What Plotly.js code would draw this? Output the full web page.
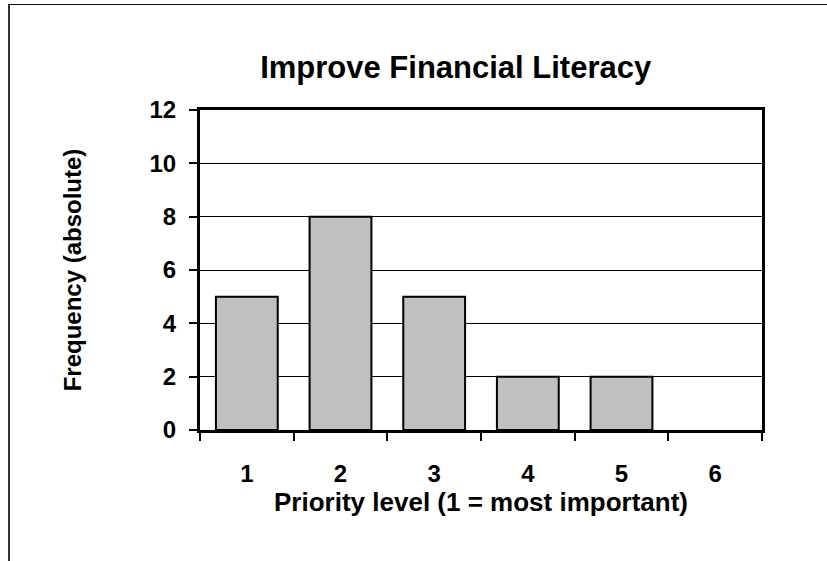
<!DOCTYPE html>
<html>
<head>
<meta charset="utf-8">
<script src="https://cdn.plot.ly/plotly-3.0.1.min.js"></script>
<style>
  html, body { margin: 0; padding: 0; background: #fff; }
  #wrap { position: relative; width: 827px; height: 561px; overflow: hidden; }
  #frame { position: absolute; left: 8px; top: 4px; width: 900px; height: 700px;
           border-top: 1px solid #111; border-left: 2px solid #333; pointer-events: none; }
  #chart { position: absolute; left: 0; top: 0; width: 827px; height: 561px; }
</style>
</head>
<body>
<div id="wrap">
  <div id="chart"></div>
  <div id="frame"></div>
</div>
<script>
// Priority levels and how many respondents chose each
const priorityLevels = ['1', '2', '3', '4', '5', '6'];
const frequencies = [5, 8, 5, 2, 2, 0];
const yTickValues = [0, 2, 4, 6, 8, 10, 12];

const FONT = 'Liberation Sans, Arial, Helvetica, sans-serif';

const trace = {
  type: 'bar',
  x: priorityLevels,
  y: frequencies,
  marker: {
    color: '#c0c0c0',
    // empty categories get no outline so nothing sits on the axis
    line: { color: '#000', width: frequencies.map(v => (v > 0 ? 2 : 0)) }
  },
  hoverinfo: 'x+y'
};

const layout = {
  width: 827,
  height: 561,
  margin: { l: 200, r: 65, t: 110, b: 131 },
  paper_bgcolor: 'rgba(0,0,0,0)',
  plot_bgcolor: '#fff',
  showlegend: false,
  bargap: 0.34,
  font: { family: FONT, color: '#000' },
  title: {
    text: 'Improve Financial Literacy',
    font: { family: FONT, size: 31, weight: 'bold', color: '#000' },
    xref: 'container', x: 0.551, xanchor: 'center',
    yref: 'container', y: 0.88, yanchor: 'middle'
  },
  xaxis: {
    type: 'category',
    tickson: 'boundaries',
    ticks: 'outside', ticklen: 8, tickwidth: 2, tickcolor: '#000',
    showline: true, linewidth: 3, linecolor: '#000', mirror: true,
    showgrid: false, zeroline: false,
    tickfont: { family: FONT, size: 24, weight: 'bold' },
    ticklabelstandoff: 20,
    title: {
      text: 'Priority level (1 = most important)',
      font: { family: FONT, size: 26, weight: 'bold' },
      standoff: 4
    }
  },
  yaxis: {
    range: [0, 12],
    tickvals: yTickValues,
    ticks: 'outside', ticklen: 8, tickwidth: 2, tickcolor: '#000',
    showline: true, linewidth: 3, linecolor: '#000', mirror: true,
    showgrid: true, gridcolor: '#000', gridwidth: 1, zeroline: false,
    tickfont: { family: FONT, size: 24, weight: 'bold' },
    ticklabelstandoff: 8,
    title: {
      text: 'Frequency (absolute)',
      font: { family: FONT, size: 24, weight: 'bold' },
      standoff: 62
    }
  }
};

Plotly.newPlot('chart', [trace], layout, { displayModeBar: false, staticPlot: true });
</script>
</body>
</html>
